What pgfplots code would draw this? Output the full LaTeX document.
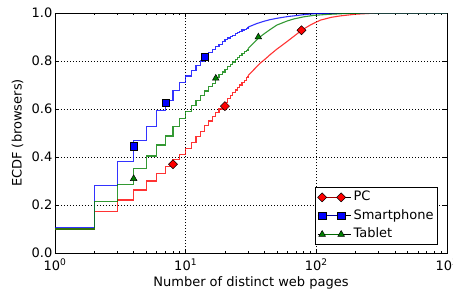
\documentclass[border=0pt]{standalone}
\usepackage{fontspec}
\setmainfont{DejaVu Sans}
\usepackage{pgfplots}
\pgfplotsset{compat=1.18}
\definecolor{mgreen}{rgb}{0,0.5,0}
\definecolor{pcred}{rgb}{1,0,0}
\definecolor{smblue}{rgb}{0,0,1}
\begin{document}
\fontsize{13}{15.6}\selectfont
\begin{tikzpicture}
\begin{axis}[
  scale only axis, width=392pt, height=240pt,
  at={(0,0)}, anchor=south west,
  xmode=log, xmin=1, xmax=1000, ymin=0, ymax=1,
  xtick={1,10,100,1000},
  xticklabels={10\textsuperscript{0},10\textsuperscript{1},10\textsuperscript{2},10\textsuperscript{3}},
  minor xtick={2,3,4,5,6,7,8,9,20,30,40,50,60,70,80,90,200,300,400,500,600,700,800,900},
  ytick={0,0.2,0.4,0.6,0.8,1},
  yticklabels={0.0,0.2,0.4,0.6,0.8,1.0},
  grid=major,
  major grid style={black, line width=0.5pt, dash pattern=on 1pt off 2pt},
  tick style={black, line width=0.6pt},
  major tick length=4pt, minor tick length=2pt,
  axis line style={line width=0.8pt},
  xticklabel style={anchor=base, yshift=-17pt},
  yticklabel style={inner xsep=2.5pt},
  xlabel={Number of distinct web pages},
  ylabel={ECDF (browsers)},
  xlabel style={at={(axis description cs:0.5,-0.1375)}, anchor=base},
  ylabel style={at={(axis description cs:-0.0957,0.5)}, anchor=center},
  legend style={at={(axis description cs:0.977,0.0333)}, anchor=south east,
    draw=black, line width=0.8pt, inner sep=2pt, row sep=2pt,
    nodes={inner sep=2pt, text height=9.5pt, text depth=3pt}},
  legend cell align=left,
]
% PC
\addplot[draw=pcred, draw opacity=0.8, line width=1.1pt, const plot, forget plot] coordinates {
(1,0.10)(2,0.172)(3,0.221)(4,0.2625)(5,0.30)(6,0.332)(7,0.36)(8,0.39)(9,0.411)(10,0.435)
(11,0.46)(12,0.485)(13,0.508)(14,0.53)(15,0.55)(16,0.568)(17,0.585)(18,0.60)(19,0.614)(20,0.628)
(21,0.642)(22,0.655)(23,0.667)(24,0.679)(25,0.69)(26,0.70)(27,0.71)(28,0.72)(29,0.73)(30,0.739)};
\addplot[draw=pcred, draw opacity=0.8, line width=1.1pt, forget plot] coordinates {
(30,0.739)(33,0.762)(37,0.79)(41,0.81)(44,0.825)(50,0.85)(53,0.86)(60,0.882)(70,0.91)(77,0.928)
(90,0.95)(107,0.97)(130,0.982)(153,0.988)(200,0.995)(250,0.998)(300,1)(1000,1)};
\addplot[only marks, mark=square*, mark size=3.2pt,
  mark options={rotate=45, fill=pcred, draw=black, line width=0.5pt},
  legend image code/.code={
    \path (-4.5pt,0pt) -- (29pt,0pt);
    \draw[pcred, draw opacity=0.6, line width=1.1pt] (0pt,0pt) -- (19pt,0pt);
    \draw plot[only marks, mark=square*, mark size=3.2pt, mark options={rotate=45, fill=pcred, draw=black, line width=0.5pt}] coordinates {(0pt,0pt) (19pt,0pt)};
  }] coordinates {(8,0.37)(20,0.612)(77,0.928)};
\addlegendentry{PC}
% Smartphone
\addplot[draw=smblue, draw opacity=0.8, line width=1.1pt, const plot, forget plot] coordinates {
(1,0.105)(2,0.28)(3,0.38)(4,0.467)(5,0.526)(6,0.592)(7,0.635)(8,0.676)(9,0.71)(10,0.7375)
(11,0.762)(12,0.782)(13,0.80)(14,0.818)(15,0.834)(16,0.848)(17,0.86)(18,0.87)(19,0.88)(20,0.889)
(21,0.896)(22,0.902)(23,0.908)(24,0.914)(25,0.919)(26,0.924)(27,0.929)(28,0.933)(29,0.937)(30,0.941)};
\addplot[draw=smblue, draw opacity=0.8, line width=1.1pt, forget plot] coordinates {
(30,0.941)(35,0.956)(40,0.966)(44,0.972)(50,0.978)(60,0.985)(67,0.988)(80,0.993)(95,0.997)(120,0.999)(150,1)(1000,1)};
\addplot[only marks, mark=square*, mark size=3.6pt,
  mark options={fill=smblue, draw=black, line width=0.5pt},
  legend image code/.code={
    \path (-4.5pt,0pt) -- (29pt,0pt);
    \draw[smblue, draw opacity=0.6, line width=1.1pt] (0pt,0pt) -- (19pt,0pt);
    \draw plot[only marks, mark=square*, mark size=3.6pt, mark options={fill=smblue, draw=black, line width=0.5pt}] coordinates {(0pt,0pt) (19pt,0pt)};
  }] coordinates {(4,0.445)(7,0.625)(14,0.818)};
\addlegendentry{Smartphone}
% Tablet
\addplot[draw=mgreen, draw opacity=0.8, line width=1.1pt, const plot, forget plot] coordinates {
(1,0.10)(2,0.214)(3,0.286)(4,0.353)(5,0.404)(6,0.45)(7,0.4875)(8,0.526)(9,0.561)(10,0.589)
(11,0.614)(12,0.636)(13,0.656)(14,0.675)(15,0.692)(16,0.708)(17,0.73)(18,0.742)(19,0.754)(20,0.765)
(21,0.776)(22,0.786)(23,0.796)(24,0.805)(25,0.814)(26,0.822)(27,0.83)(28,0.838)(29,0.845)(30,0.852)};
\addplot[draw=mgreen, draw opacity=0.8, line width=1.1pt, forget plot] coordinates {
(30,0.852)(33,0.874)(36,0.895)(40,0.914)(44,0.93)(50,0.95)(60,0.967)(67,0.975)(80,0.984)(95,0.99)(120,0.994)(170,0.998)(250,1)(1000,1)};
\addplot[only marks, mark=triangle*, mark size=3.8pt,
  mark options={fill=mgreen, draw=black, line width=0.5pt},
  legend image code/.code={
    \path (-4.5pt,0pt) -- (29pt,0pt);
    \draw[mgreen, draw opacity=0.8, line width=1.1pt] (0pt,0pt) -- (19pt,0pt);
    \draw plot[only marks, mark=triangle*, mark size=3.8pt, mark options={fill=mgreen, draw=black, line width=0.5pt}] coordinates {(0pt,0pt) (19pt,0pt)};
  }] coordinates {(4,0.31)(17,0.728)(36,0.900)};
\addlegendentry{Tablet}
\end{axis}
\pgfresetboundingbox
\path (-55pt,-40pt) rectangle (398pt,253pt);
\end{tikzpicture}
\end{document}
